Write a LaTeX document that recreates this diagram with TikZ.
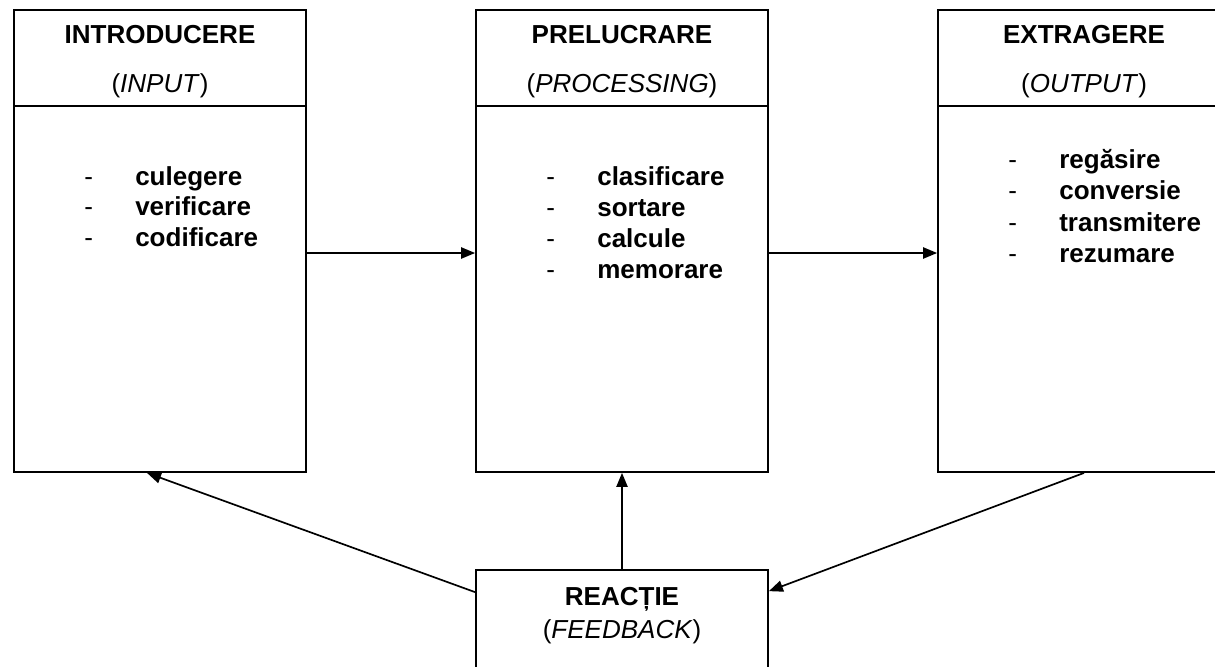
\documentclass[tikz,border=0pt]{standalone}
\usepackage{fontspec}
\setmainfont{Liberation Sans}
\usetikzlibrary{arrows.meta,calc}

\tikzset{
  stage/.style={draw, line width=1.2pt, minimum width=7.3cm, minimum height=11.55cm, inner sep=0pt},
  fbbox/.style={draw, line width=1.2pt, minimum width=7.3cm, minimum height=3.5cm, inner sep=0pt},
  title/.style={anchor=base, inner sep=0pt, font=\fontsize{18.5}{22}\selectfont\bfseries},
  subtitle/.style={anchor=base, inner sep=0pt, font=\fontsize{18.5}{22}\selectfont},
  item/.style={anchor=base west, inner sep=0pt, font=\fontsize{18.5}{22}\selectfont\bfseries},
  dashmark/.style={anchor=base west, inner sep=0pt, font=\fontsize{18.5}{22}\selectfont},
  conn/.style={line width=1.2pt, -{Triangle[length=10pt,width=8pt]}}
}

\begin{document}
\begin{tikzpicture}[x=0.025cm, y=-0.025cm]

    \useasboundingbox (0, 0) rectangle (1215, 666);
    \clip (0, 0) rectangle (1215, 666);

    % the three stages
    \node[stage] (in) at (160, 241) {};
    \node[stage] (proc) at (622, 241) {};
    \node[stage] (out) at (1084, 241) {};
        \draw[line width=1.2pt] ($(in.north west)+(0, 97)$) to ($(in.north east)+(0, 97)$);
        \draw[line width=1.2pt] ($(proc.north west)+(0, 97)$) to ($(proc.north east)+(0, 97)$);
        \draw[line width=1.2pt] ($(out.north west)+(0, 97)$) to ($(out.north east)+(0, 97)$);

    % headings
    \node[title] (t1) at (160, 43){INTRODUCERE};
        \node[subtitle] (s1) at (160, 92){(\textit{INPUT})};
    \node[title] (t2) at (622, 43){PRELUCRARE};
        \node[subtitle] (s2) at (622, 92){(\textit{PROCESSING})};
    \node[title] (t3) at (1084, 43){EXTRAGERE};
        \node[subtitle] (s3) at (1084, 92){(\textit{OUTPUT})};

    % input list
    \node[dashmark] (d11) at (84, 185){-};
        \node[item] (w11) at (135, 185){culegere};
    \node[dashmark] (d12) at (84, 215){-};
        \node[item] (w12) at (135, 215){verificare};
    \node[dashmark] (d13) at (84, 246){-};
        \node[item] (w13) at (135, 246){codificare};

    % processing list
    \node[dashmark] (d21) at (546, 185){-};
        \node[item] (w21) at (597, 185){clasificare};
    \node[dashmark] (d22) at (546, 216){-};
        \node[item] (w22) at (597, 216){sortare};
    \node[dashmark] (d23) at (546, 247){-};
        \node[item] (w23) at (597, 247){calcule};
    \node[dashmark] (d24) at (546, 278){-};
        \node[item] (w24) at (597, 278){memorare};

    % output list
    \node[dashmark] (d31) at (1008, 168){-};
        \node[item] (w31) at (1059, 168){regăsire};
    \node[dashmark] (d32) at (1008, 199){-};
        \node[item] (w32) at (1059, 199){conversie};
    \node[dashmark] (d33) at (1008, 231){-};
        \node[item] (w33) at (1059, 231){transmitere};
    \node[dashmark] (d34) at (1008, 262){-};
        \node[item] (w34) at (1059, 262){rezumare};

    % feedback
    \node[fbbox] (fb) at (622, 640) {};
        \node[title] (t4) at (622, 605){REACȚIE};
        \node[subtitle] (s4) at (622, 638){(\textit{FEEDBACK})};

    % connectors
    \draw[conn] ($(in.east)+(0, 12)$) to ($(proc.west)+(0, 12)$);
    \draw[conn] ($(proc.east)+(0, 12)$) to ($(out.west)+(0, 12)$);
    \draw[conn] (fb.north) to (proc.south);
    \draw[conn] ($(fb.north west)+(0, 23)$) to ($(in.south)+(-13, 0)$);
    \draw[conn] (out.south) to ($(fb.north east)+(0, 22)$);

\end{tikzpicture}
\end{document}
